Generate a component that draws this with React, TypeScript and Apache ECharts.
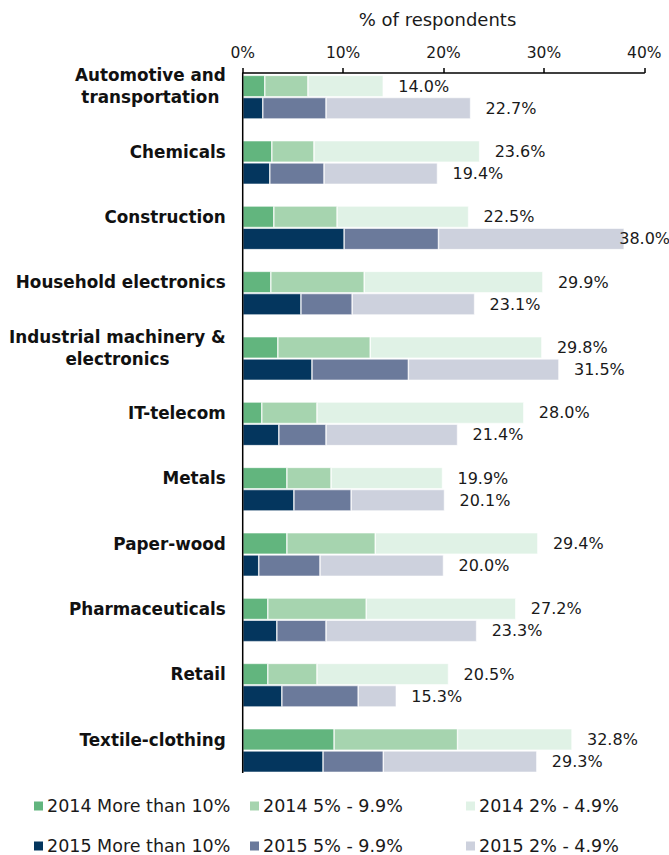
import React, { useEffect, useRef } from "react";
import * as echarts from "echarts";

const categories = [
  "Automotive and\ntransportation",
  "Chemicals",
  "Construction",
  "Household electronics",
  "Industrial machinery &\nelectronics",
  "IT-telecom",
  "Metals",
  "Paper-wood",
  "Pharmaceuticals",
  "Retail",
  "Textile-clothing",
];

const seriesNames = [
  "2014 More than 10%",
  "2014 5% - 9.9%",
  "2014 2% - 4.9%",
  "2015 More than 10%",
  "2015 5% - 9.9%",
  "2015 2% - 4.9%",
];

const y2014More10 = [2.2, 2.9, 3.1, 2.8, 3.5, 1.9, 4.4, 4.4, 2.5, 2.5, 9.1];
const y2014Mid = [4.3, 4.2, 6.3, 9.3, 9.2, 5.5, 4.4, 8.8, 9.8, 4.9, 12.3];
const y2014Low = [7.5, 16.5, 13.1, 17.8, 17.1, 20.6, 11.1, 16.2, 14.9, 13.1, 11.4];
const total2014 = [14.0, 23.6, 22.5, 29.9, 29.8, 28.0, 19.9, 29.4, 27.2, 20.5, 32.8];

const y2015More10 = [2.0, 2.7, 10.1, 5.8, 6.9, 3.6, 5.1, 1.6, 3.4, 3.9, 8.0];
const y2015Mid = [6.3, 5.4, 9.4, 5.1, 9.6, 4.7, 5.7, 6.1, 4.9, 7.6, 6.0];
const y2015Low = [14.4, 11.3, 18.5, 12.2, 15.0, 13.1, 9.3, 12.3, 15.0, 3.8, 15.3];
const total2015 = [22.7, 19.4, 38.0, 23.1, 31.5, 21.4, 20.1, 20.0, 23.3, 15.3, 29.3];

const xMin = 0;
const xMax = 40;
const xInterval = 10;

const colors = ["#62b57e", "#a6d4af", "#e0f2e6", "#04365e", "#6b7a9b", "#cdd1dd"];
const FONT = "DejaVu Sans";

export default function App() {
  const ref = useRef<HTMLDivElement>(null);

  useEffect(() => {
    if (!ref.current) return;
    const chart = echarts.init(ref.current, undefined, { renderer: "svg" });

    const barBase = (stack: string, color: string) => ({
      type: "bar",
      stack,
      barWidth: 21.5,
      barGap: "3%",
      itemStyle: { color, borderColor: "#ffffff", borderWidth: 0.6 },
      emphasis: { disabled: true },
    });

    const endLabel = (totals: number[]) => ({
      show: true,
      position: "right",
      distance: 15,
      fontFamily: FONT,
      fontSize: 16,
      color: "#1a1a1a",
      formatter: (p: any) => totals[p.dataIndex].toFixed(1) + "%",
    });

    const withFit = (vals: number[], totals: number[]) =>
      vals.map((v, i) => (totals[i] > 36 ? { value: v, label: { distance: -5 } } : v));

    const legendPos = [
      [32, 797],
      [248, 797],
      [464, 797],
      [32, 837],
      [248, 837],
      [464, 837],
    ];

    chart.setOption({
      animation: false,
      grid: { left: 242.7, right: 24.7, top: 64.5, height: 718.7, containLabel: false },
      xAxis: {
        type: "value",
        position: "top",
        min: xMin,
        max: xMax,
        interval: xInterval,
        offset: -8.5,
        name: "% of respondents",
        nameLocation: "middle",
        nameGap: 45,
        nameTextStyle: { fontFamily: FONT, fontSize: 18, color: "#1a1a1a", padding: [0, 12, 0, 0] },
        axisLine: { show: true, lineStyle: { color: "#000", width: 1.5 } },
        axisTick: { show: true, length: 5, lineStyle: { color: "#000", width: 1.5 } },
        axisLabel: {
          formatter: "{value}%",
          fontFamily: FONT,
          fontSize: 15.5,
          color: "#1a1a1a",
          margin: 12,
        },
        splitLine: { show: false },
      },
      yAxis: {
        type: "category",
        inverse: true,
        data: categories,
        axisLine: { show: false },
        axisTick: { show: false },
        axisLabel: {
          margin: 17,
          padding: [0, 0, 22, 0],
          formatter: (v: string) =>
            v
              .split("\n")
              .map((s) => `{a|${s}}`)
              .join("\n"),
          rich: {
            a: {
              align: "center",
              fontFamily: FONT,
              fontWeight: "bold",
              fontSize: 16.8,
              lineHeight: 22,
              color: "#111",
            },
          },
        },
      },
      legend: seriesNames.map((n, i) => ({
        data: [n],
        left: legendPos[i][0],
        top: legendPos[i][1],
        padding: 0,
        icon: "rect",
        itemWidth: 11,
        itemHeight: 11,
        selectedMode: false,
        textStyle: { fontFamily: FONT, fontSize: 17.5, color: "#1a1a1a", padding: [0, 0, 0, -2] },
      })),
      graphic: [
        {
          type: "line",
          shape: { x1: 242.7, y1: 73, x2: 242.7, y2: 773 },
          style: { stroke: "#000", lineWidth: 1.5 },
          z: 10,
        },
      ],
      series: [
        { ...barBase("2014", colors[0]), name: seriesNames[0], data: y2014More10 },
        { ...barBase("2014", colors[1]), name: seriesNames[1], data: y2014Mid },
        {
          ...barBase("2014", colors[2]),
          name: seriesNames[2],
          data: withFit(y2014Low, total2014),
          label: endLabel(total2014),
        },
        { ...barBase("2015", colors[3]), name: seriesNames[3], data: y2015More10 },
        { ...barBase("2015", colors[4]), name: seriesNames[4], data: y2015Mid },
        {
          ...barBase("2015", colors[5]),
          name: seriesNames[5],
          data: withFit(y2015Low, total2015),
          label: endLabel(total2015),
        },
      ],
    });

    return () => chart.dispose();
  }, []);

  return (
    <div
      ref={ref}
      style={{ position: "absolute", left: 0, top: 0, width: 669, height: 855, background: "#fff" }}
    />
  );
}
